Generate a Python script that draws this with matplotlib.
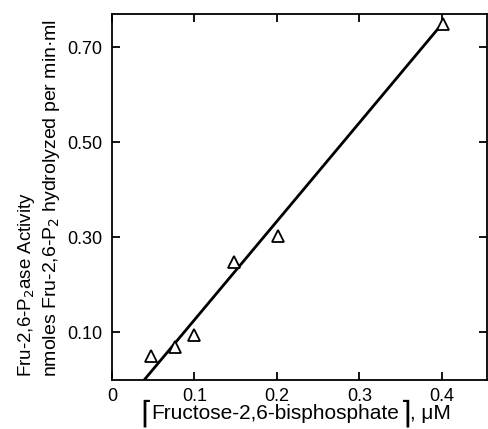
import matplotlib
matplotlib.use("Agg")
import matplotlib.pyplot as plt
import numpy as np

# data
conc = [0.047, 0.076, 0.100, 0.148, 0.201, 0.402]
activity = [0.050, 0.069, 0.094, 0.249, 0.304, 0.748]

# fitted line end points
fit_x = [0.039, 0.397]
fit_y = [0.0, 0.742]

x_ticks = [0, 0.1, 0.2, 0.3, 0.4]
x_ticklabels = ["0", "0.1", "0.2", "0.3", "0.4"]
y_ticks = [0.10, 0.30, 0.50, 0.70]
y_ticklabels = ["0.10", "0.30", "0.50", "0.70"]

plt.rcParams["font.family"] = ["Liberation Sans", "DejaVu Sans"]

W, H = 488, 429
fig = plt.figure(figsize=(W / 100, H / 100), dpi=100)
ax = fig.add_axes([112 / W, 1 - 380 / H, (487 - 112) / W, (380 - 14) / H])

ax.plot(fit_x, fit_y, color="black", linewidth=2.0, solid_capstyle="butt")
ax.plot(conc, activity, linestyle="none", marker="^", markersize=8,
        markerfacecolor="white", markeredgecolor="black", markeredgewidth=1.3)

ax.set_xlim(0, 0.455)
ax.set_ylim(0, 0.77)
ax.set_xticks(x_ticks)
ax.set_xticklabels(x_ticklabels)
ax.set_yticks(y_ticks)
ax.set_yticklabels(y_ticklabels)
ax.tick_params(direction="in", length=6, width=1.3, labelsize=13, right=True, top=True)
ax.tick_params(axis="y", pad=7)
ax.tick_params(axis="x", pad=6)
for s in ax.spines.values():
    s.set_linewidth(1.3)

# y label, two lines, rotated and anchored at the bottom
fig.text(27 / W, 1 - 377 / H, "Fru-2,6-P$_2$ase Activity", rotation=90,
         ha="center", va="bottom", fontsize=13.5)
fig.text(52 / W, 1 - 377 / H, "nmoles Fru-2,6-P$_2$ hydrolyzed per min·ml",
         rotation=90, ha="center", va="bottom", fontsize=14)

# x label with tall corner brackets
fig.text(140 / W, 1 - 400 / H, "⌈", ha="left", va="top", fontsize=22,
         family="DejaVu Sans")
fig.text(151 / W, 1 - 419 / H, "Fructose-2,6-bisphosphate", ha="left",
         va="baseline", fontsize=15)
fig.text(399 / W, 1 - 400 / H, "⌉", ha="left", va="top", fontsize=22,
         family="DejaVu Sans")
fig.text(410 / W, 1 - 419 / H, ", μM", ha="left", va="baseline", fontsize=15)

fig.savefig("out.png", dpi=100)
